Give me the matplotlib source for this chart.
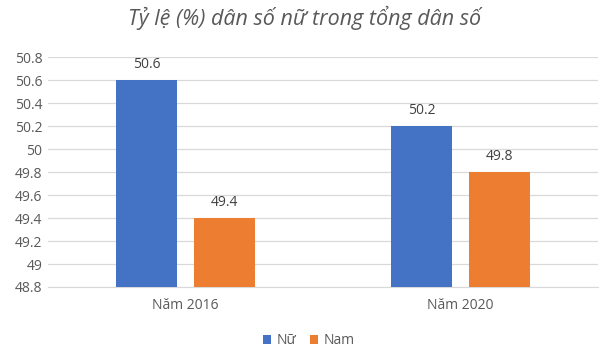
import matplotlib
matplotlib.use("Agg")
import matplotlib.pyplot as plt
import numpy as np

categories = ["Năm 2016", "Năm 2020"]
series_names = ["Nữ", "Nam"]
nu_values = [50.6, 50.2]
nam_values = [49.4, 49.8]
y_ticks = [48.8, 49, 49.2, 49.4, 49.6, 49.8, 50, 50.2, 50.4, 50.6, 50.8]
y_tick_labels = ["48.8", "49", "49.2", "49.4", "49.6", "49.8", "50", "50.2", "50.4", "50.6", "50.8"]
title = "Tỷ lệ (%) dân số nữ trong tổng dân số"

plt.rcParams['font.family'] = ['Open Sans', 'DejaVu Sans']
text_color = "#595959"

fig = plt.figure(figsize=(6.07, 3.57), dpi=100)
ax = fig.add_axes([48/607, 1-287/357, 550/607, (287-57.3)/357])

x = np.arange(len(categories))
bw = 0.225
off = 0.1418
colors = ["#4472C4", "#ED7D31"]
for vals, o, c, name in [(nu_values, -off, colors[0], series_names[0]),
                         (nam_values, off, colors[1], series_names[1])]:
    ax.bar(x + o, np.array(vals) - 48.8, bottom=48.8, width=bw, color=c, label=name, zorder=3)
    for xi, v in zip(x + o, vals):
        ax.annotate(f"{v}", (xi, v), xytext=(0, 6), textcoords="offset points",
                    ha="center", va="bottom", fontsize=10, color="#404040")

ax.set_xlim(-0.5, 1.5)
ax.set_ylim(48.8, 50.8)
ax.set_yticks(y_ticks)
ax.set_yticklabels(y_tick_labels, fontsize=10, color=text_color)
ax.set_xticks(x)
ax.set_xticklabels(categories, fontsize=10, color=text_color)
ax.grid(axis="y", color="#D9D9D9", linewidth=0.9, zorder=0)
for s in ["top", "right", "left"]:
    ax.spines[s].set_visible(False)
ax.spines["bottom"].set_color("#D9D9D9")
ax.tick_params(axis="y", length=0, pad=4)
ax.tick_params(axis="x", length=0, pad=8)

fig.text(305/607, 1-18/357, title, ha="center", va="center", fontsize=15.5,
         style="italic", color=text_color)

handles, labels = ax.get_legend_handles_labels()
fig.legend(handles, labels, loc="center", bbox_to_anchor=(309/607, 1-341/357), ncol=2,
           frameon=False, fontsize=10, handlelength=0.55, handleheight=0.55,
           handletextpad=0.4, columnspacing=1.0, labelcolor=text_color)

fig.savefig("out.png", dpi=100)
